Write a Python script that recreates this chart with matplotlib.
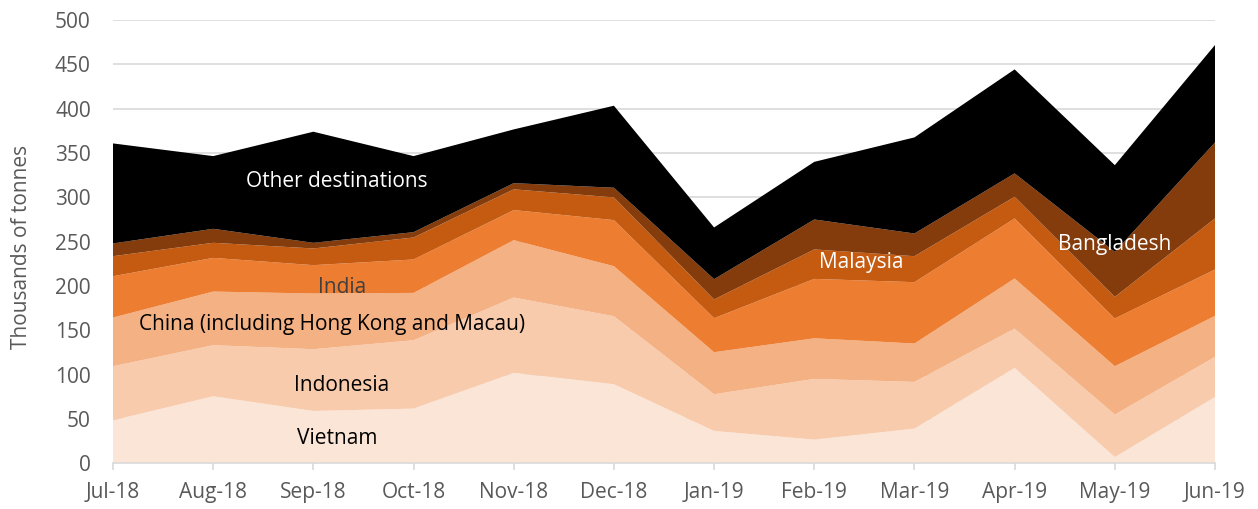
import matplotlib
matplotlib.use("Agg")
import matplotlib.pyplot as plt
import numpy as np

months = ["Jul-18", "Aug-18", "Sep-18", "Oct-18", "Nov-18", "Dec-18",
          "Jan-19", "Feb-19", "Mar-19", "Apr-19", "May-19", "Jun-19"]

vietnam    = [48.5, 75.6, 59.0, 61.7, 102.0, 89.2, 36.5, 26.7, 39.1, 107.6, 7.0, 74.8]
indonesia  = [61.0, 57.6, 69.7, 77.1, 85.0, 76.7, 41.4, 68.5, 52.7, 44.4, 48.0, 45.2]
china      = [54.9, 60.5, 62.8, 53.4, 64.7, 56.4, 47.4, 45.8, 43.3, 56.5, 54.5, 46.3]
india      = [46.6, 38.0, 32.0, 37.7, 33.9, 52.0, 38.4, 67.0, 69.2, 67.7, 53.8, 52.3]
malaysia   = [22.6, 17.0, 18.8, 24.8, 23.4, 25.6, 21.1, 33.2, 29.3, 24.4, 24.4, 57.6]
bangladesh = [14.4, 15.8, 6.4, 6.0, 7.0, 10.9, 22.9, 33.8, 25.6, 26.4, 50.8, 85.7]
other      = [112.8, 82.0, 125.3, 85.8, 60.6, 92.5, 58.3, 65.0, 108.4, 117.3, 97.8, 109.9]

series_names = ["Vietnam", "Indonesia", "China (including Hong Kong and Macau)",
                "India", "Malaysia", "Bangladesh", "Other destinations"]
colors = ["#FBE5D6", "#F8CBAD", "#F4B183", "#ED7D31", "#C55A11", "#843C0C", "#000000"]

plt.rcParams['font.family'] = ['Open Sans', 'DejaVu Sans']
FS = 15

fig = plt.figure(figsize=(12.58, 5.09), dpi=100)
ax = fig.add_axes([113/1258, 1 - 463.3/509, (1215-113)/1258, (463.3-20)/509])

x = np.arange(len(months))
ax.stackplot(x, vietnam, indonesia, china, india, malaysia, bangladesh, other,
             colors=colors, linewidth=0, zorder=2)

ax.set_xlim(0, len(months) - 1)
ax.set_ylim(0, 500)
ax.set_yticks(np.arange(0, 501, 50))
ax.set_xticks(x)
ax.set_xticklabels(months)
ax.yaxis.grid(True, color="#D9D9D9", linewidth=1.2, zorder=0)
ax.set_axisbelow(True)

for s in ["top", "right", "left"]:
    ax.spines[s].set_visible(False)
ax.spines["bottom"].set_color("#D9D9D9")
ax.spines["bottom"].set_linewidth(1.2)
ax.spines["bottom"].set_zorder(3)

ax.tick_params(axis="y", length=0, pad=16, labelsize=FS, labelcolor="#595959")
ax.tick_params(axis="x", length=5, width=1.2, color="#D9D9D9", pad=8.5,
               labelsize=FS, labelcolor="#595959")

fig.text(22/1258, 1 - 247/509, "Thousands of tonnes", rotation=90,
         ha="center", va="center", fontsize=FS, color="#595959")

labels = [
    ("Other destinations", 2.235, 311.1, "white"),
    ("India", 2.285, 192.4, "#404040"),
    ("China (including Hong Kong and Macau)", 2.186, 150.3, "black"),
    ("Indonesia", 2.285, 81.9, "black"),
    ("Vietnam", 2.235, 21.4, "black"),
    ("Malaysia", 7.465, 220.6, "white"),
    ("Bangladesh", 9.996, 240.6, "white"),
]
for txt, lx, ly, c in labels:
    ax.text(lx, ly, txt, ha="center", va="baseline", fontsize=FS, color=c, zorder=5)

fig.savefig("out.png", dpi=100)
